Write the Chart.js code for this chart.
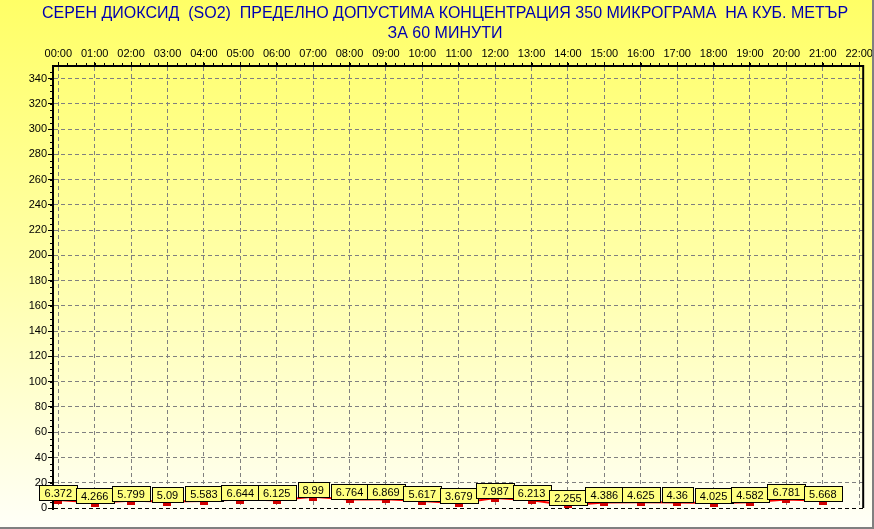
<!DOCTYPE html>
<html lang="bg">
<head>
    <meta charset="UTF-8">
    <title>SO2</title>
    <script src="https://cdn.jsdelivr.net/npm/chart.js"></script>
    <style>
        html, body { margin: 0; padding: 0; }
        #wrap { width: 874px; height: 529px; background: linear-gradient(#ffff66, #ffffa8 50%, #fffff8); }
        canvas { display: block; }
    </style>
</head>
<body>
<div id="wrap"><canvas id="so2-chart" width="874" height="529"></canvas></div>

<script>
    const titleLines = [
        'СЕРЕН ДИОКСИД  (SO2)  ПРЕДЕЛНО ДОПУСТИМА КОНЦЕНТРАЦИЯ 350 МИКРОГРАМА  НА КУБ. МЕТЪР',
        'ЗА 60 МИНУТИ'
    ];
    const hours = ['00:00', '01:00', '02:00', '03:00', '04:00', '05:00', '06:00', '07:00', '08:00', '09:00', '10:00',
        '11:00', '12:00', '13:00', '14:00', '15:00', '16:00', '17:00', '18:00', '19:00', '20:00', '21:00', '22:00'];
    const so2Values = [6.372, 4.266, 5.799, 5.09, 5.583, 6.644, 6.125, 8.99, 6.764, 6.869, 5.617,
        3.679, 7.987, 6.213, 2.255, 4.386, 4.625, 4.36, 4.025, 4.582, 6.781, 5.668];
    const yTicks = [0, 20, 40, 60, 80, 100, 120, 140, 160, 180, 200, 220, 240, 260, 280, 300, 320, 340];

    const FONT = '"Liberation Sans", Arial, sans-serif';

    // small red marker hanging under the value
    const marker = document.createElement('canvas');
    marker.width = 8;
    marker.height = 8;
    const mctx = marker.getContext('2d');
    mctx.fillStyle = '#d00000';
    mctx.fillRect(0, 4, 8, 4);

    const titleBlock = {
        id: 'titleBlock',
        beforeDraw(chart) {
            const ctx = chart.ctx;
            ctx.save();
            ctx.font = '16px ' + FONT;
            ctx.fillStyle = '#0000b0';
            ctx.textAlign = 'center';
            ctx.textBaseline = 'middle';
            ctx.fillText(titleLines[0], 445, 14);
            ctx.fillText(titleLines[1], 445, 33.5);
            ctx.restore();
        }
    };

    // minor ticks on both axes + right edge of the frame
    const frame = {
        id: 'frame',
        beforeDatasetsDraw(chart) {
            const {ctx, chartArea: a, scales: {x, y}} = chart;
            ctx.save();
            ctx.strokeStyle = '#000';
            ctx.lineWidth = 1;
            ctx.beginPath();
            for (let v = 0; v <= 345; v += 5) {
                const py = Math.round(y.getPixelForValue(v)) + 0.5;
                ctx.moveTo(a.left - 3, py);
                ctx.lineTo(a.left, py);
            }
            for (let h = 0; h <= 22; h += 0.25) {
                const px = Math.round(x.getPixelForValue(h)) + 0.5;
                ctx.moveTo(px, a.top - 3);
                ctx.lineTo(px, a.top);
            }
            ctx.stroke();
            ctx.lineWidth = 2;
            ctx.beginPath();
            ctx.moveTo(a.right, a.top - 1);
            ctx.lineTo(a.right, a.bottom);
            ctx.moveTo(a.left, a.bottom);
            ctx.lineTo(a.left, a.bottom + 2);
            ctx.stroke();
            ctx.fillStyle = '#808080';
            ctx.fillRect(872, 0, 2, 529);
            ctx.fillRect(0, 527, 874, 2);
            ctx.restore();
        }
    };

    const valueLabels = {
        id: 'valueLabels',
        afterDatasetsDraw(chart) {
            const ctx = chart.ctx;
            const meta = chart.getDatasetMeta(0);
            ctx.save();
            ctx.font = '11px ' + FONT;
            ctx.textAlign = 'center';
            ctx.textBaseline = 'middle';
            ctx.lineWidth = 1;
            meta.data.forEach((pt, i) => {
                const txt = String(so2Values[i]);
                const w = Math.round(ctx.measureText(txt).width) + 10;
                const h = 15;
                const bx = Math.round(pt.x - w / 2) + 0.5;
                const by = Math.round(pt.y) - h + 0.5;
                ctx.fillStyle = '#ffff80';
                ctx.fillRect(bx, by, w, h);
                ctx.strokeStyle = '#000';
                ctx.strokeRect(bx, by, w, h);
                ctx.fillStyle = '#000';
                ctx.fillText(txt, pt.x, by + h / 2 + 0.5);
            });
            ctx.restore();
        }
    };

    const ctx = document.getElementById('so2-chart').getContext('2d');
    new Chart(ctx, {
        type: 'line',
        data: {
            datasets: [{
                data: so2Values.map((v, i) => ({x: i, y: v})),
                borderColor: '#ff0000',
                borderWidth: 2,
                pointStyle: marker,
                pointRadius: 4,
                fill: false,
                tension: 0
            }]
        },
        options: {
            responsive: false,
            animation: false,
            devicePixelRatio: 1,
            layout: {padding: {top: 42, right: 9, bottom: 21, left: 0}},
            font: {family: FONT, size: 11},
            plugins: {
                legend: {display: false},
                tooltip: {enabled: false},
                title: {display: false}
            },
            scales: {
                x: {
                    type: 'linear',
                    position: 'top',
                    min: -0.145,
                    max: 22.11,
                    afterBuildTicks: axis => { axis.ticks = hours.map((h, i) => ({value: i})); },
                    afterFit: axis => { axis.height = 24; },
                    ticks: {
                        callback: v => hours[v],
                        autoSkip: false,
                        maxRotation: 0,
                        padding: 1,
                        color: '#000',
                        font: {family: FONT, size: 11}
                    },
                    grid: {color: '#808080', tickColor: '#000', tickLength: 4},
                    border: {color: '#000', width: 2, dash: [4, 3]}
                },
                y: {
                    min: 0,
                    max: 350,
                    afterBuildTicks: axis => { axis.ticks = yTicks.map(v => ({value: v})); },
                    afterFit: axis => { axis.width = 53; },
                    ticks: {padding: 1, color: '#000', font: {family: FONT, size: 11}},
                    grid: {
                        color: c => (c.tick && c.tick.value === 0 ? '#000' : '#808080'),
                        tickColor: '#000',
                        tickLength: 5
                    },
                    border: {color: '#000', width: 2, dash: [4, 3]}
                }
            }
        },
        plugins: [titleBlock, frame, valueLabels]
    });
</script>
</body>
</html>
